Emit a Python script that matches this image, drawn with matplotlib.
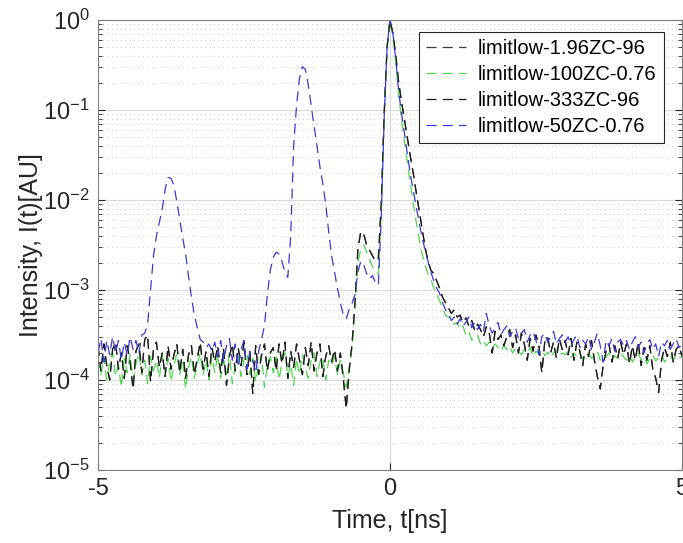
import numpy as np
import matplotlib
matplotlib.use("Agg")
import matplotlib.pyplot as plt

plt.rcParams['font.family'] = ['Liberation Sans', 'DejaVu Sans']
plt.rcParams['mathtext.fontset'] = 'custom'
plt.rcParams['mathtext.rm'] = 'Liberation Sans'
plt.rcParams['mathtext.it'] = 'Liberation Sans:italic'

# time axis, ns (step 0.05)
t = np.round(np.arange(201) * 0.05 - 5, 2)

# log10 of intensity
log_333 = [
    -3.62, -3.90, -3.60, -3.84, -4.00, -3.66, -3.58, -3.88, -3.70, -3.98, -3.62, -3.80, -4.10, -3.68, -3.60, -3.92, -3.55, -3.50, -4.02, -3.66,
    -3.58, -3.86, -3.70, -3.96, -3.62, -3.88, -3.72, -3.60, -3.92, -3.66, -3.98, -3.72, -3.62, -3.94, -3.76, -3.58, -3.88, -3.68, -3.96, -3.64,
    -3.80, -3.62, -3.92, -3.66, -4.06, -3.74, -3.60, -3.90, -3.64, -3.84, -3.58, -3.94, -3.68, -4.15, -3.62, -3.94, -3.72, -3.60, -3.90, -3.70,
    -3.64, -3.90, -3.60, -3.82, -3.58, -3.98, -3.68, -3.86, -3.60, -3.78, -3.94, -3.64, -3.84, -3.58, -3.90, -3.70, -3.60, -3.96, -3.74, -3.62,
    -3.80, -3.66, -3.90, -3.70, -3.98, -4.32, -3.90, -3.60, -3.15, -2.55, -2.35, -2.38, -2.50, -2.56, -2.62, -2.68, -2.66, -2.05, -1.05, -0.30,
    0.00, -0.15, -0.40, -0.70, -0.92, -1.12, -1.32, -1.52, -1.71, -1.92, -2.12, -2.32, -2.52, -2.68, -2.78, -2.82, -2.90, -2.98, -3.08, -3.14,
    -3.20, -3.26, -3.22, -3.30, -3.28, -3.36, -3.31, -3.40, -3.34, -3.45, -3.38, -3.44, -3.52, -3.41, -3.48, -3.70, -3.46, -3.55, -3.50, -3.62,
    -3.52, -3.44, -3.64, -3.50, -3.70, -3.48, -3.60, -3.78, -3.54, -3.68, -3.50, -3.62, -3.92, -3.58, -3.52, -3.70, -3.58, -3.76, -3.54, -3.66,
    -3.56, -3.72, -3.54, -3.78, -3.58, -3.68, -3.84, -3.60, -3.74, -3.56, -3.78, -3.96, -4.10, -3.84, -3.68, -3.60, -3.80, -3.62, -3.76, -3.58,
    -3.72, -3.60, -3.82, -3.62, -3.78, -3.58, -3.84, -3.64, -3.78, -3.62, -3.88, -3.98, -4.14, -3.78, -3.64, -3.74, -3.58, -3.80, -3.66, -3.62, -3.74,
]
log_196 = log_333  # hidden under the 333ZC curve

log_100 = [
    -3.76, -3.94, -3.74, -4.00, -3.80, -3.70, -3.96, -3.84, -4.08, -3.76, -3.92, -3.72, -4.00, -3.82, -3.70, -3.94, -3.78, -4.04, -3.74, -3.90,
    -3.78, -3.98, -3.72, -3.92, -3.76, -4.02, -3.84, -3.70, -3.94, -3.78, -4.10, -3.86, -3.74, -3.98, -3.82, -3.70, -3.94, -3.78, -4.00, -3.74,
    -3.92, -3.72, -3.98, -3.78, -3.94, -3.70, -4.04, -3.84, -3.74, -3.96, -3.78, -3.70, -3.94, -3.76, -4.02, -3.82, -3.72, -4.08, -3.84, -3.74,
    -3.92, -3.74, -4.00, -3.80, -3.70, -3.96, -3.82, -4.06, -3.76, -3.94, -3.72, -3.86, -3.98, -3.78, -3.70, -3.96, -3.80, -3.74, -4.00, -3.78,
    -3.84, -3.74, -3.94, -3.78, -3.92, -4.08, -3.86, -3.65, -3.20, -2.70, -2.55, -2.50, -2.58, -2.66, -2.74, -2.80, -2.82, -2.15, -1.10, -0.32,
    0.00, -0.18, -0.48, -0.85, -1.12, -1.36, -1.60, -1.82, -2.05, -2.25, -2.44, -2.60, -2.72, -2.82, -2.88, -2.98, -3.05, -3.12, -3.20, -3.28,
    -3.30, -3.34, -3.38, -3.36, -3.44, -3.40, -3.50, -3.46, -3.56, -3.52, -3.50, -3.60, -3.56, -3.62, -3.58, -3.65, -3.60, -3.64, -3.68, -3.62,
    -3.66, -3.62, -3.70, -3.65, -3.68, -3.72, -3.66, -3.70, -3.64, -3.74, -3.68, -3.71, -3.66, -3.73, -3.69, -3.75, -3.70, -3.67, -3.74, -3.70,
    -3.72, -3.68, -3.75, -3.70, -3.74, -3.69, -3.77, -3.72, -3.70, -3.76, -3.73, -3.68, -3.78, -3.72, -3.75, -3.70, -3.79, -3.73, -3.76, -3.71,
    -3.74, -3.78, -3.72, -3.80, -3.75, -3.70, -3.78, -3.74, -3.82, -3.76, -3.72, -3.79, -3.75, -3.71, -3.80, -3.76, -3.73, -3.78, -3.72, -3.76, -3.74,
]

log_50 = [
    -3.70, -3.54, -3.80, -3.56, -3.72, -3.52, -3.70, -3.56, -3.78, -3.58, -3.72, -3.52, -3.66, -3.56, -3.70, -3.50, -3.48, -3.38, -3.00, -2.62,
    -2.40, -2.25, -2.10, -1.88, -1.75, -1.76, -1.84, -2.02, -2.22, -2.42, -2.60, -2.85, -3.08, -3.28, -3.42, -3.55, -3.58, -3.64, -3.60, -3.68,
    -3.58, -3.74, -3.56, -3.80, -3.62, -3.54, -3.78, -3.60, -3.86, -3.66, -3.56, -3.88, -3.68, -3.78, -3.92, -3.68, -3.55, -3.40, -3.05, -2.78,
    -2.64, -2.58, -2.60, -2.68, -2.80, -2.86, -2.40, -1.40, -0.95, -0.65, -0.52, -0.55, -0.72, -0.95, -1.18, -1.40, -1.63, -1.82, -2.05, -2.35,
    -2.62, -2.80, -2.98, -3.14, -3.28, -3.32, -3.22, -3.15, -3.05, -2.80, -2.68, -2.72, -2.82, -2.88, -2.84, -2.92, -2.95, -2.20, -1.10, -0.30,
    0.00, -0.15, -0.45, -0.80, -1.05, -1.27, -1.50, -1.72, -1.90, -2.08, -2.25, -2.42, -2.55, -2.68, -2.80, -2.90, -2.98, -3.04, -3.14, -3.22,
    -3.26, -3.34, -3.30, -3.38, -3.32, -3.40, -3.36, -3.30, -3.42, -3.36, -3.44, -3.38, -3.46, -3.26, -3.40, -3.48, -3.42, -3.36, -3.50, -3.44,
    -3.40, -3.52, -3.46, -3.42, -3.54, -3.48, -3.44, -3.58, -3.50, -3.46, -3.56, -3.72, -3.52, -3.48, -3.58, -3.52, -3.46, -3.60, -3.54, -3.50,
    -3.58, -3.52, -3.62, -3.55, -3.50, -3.64, -3.56, -3.60, -3.52, -3.66, -3.58, -3.48, -3.62, -3.80, -3.56, -3.62, -3.54, -3.68, -3.58, -3.55,
    -3.62, -3.56, -3.66, -3.58, -3.52, -3.64, -3.58, -3.70, -3.60, -3.55, -3.66, -3.60, -3.74, -3.58, -3.62, -3.56, -3.66, -3.60, -3.54, -3.64, -3.60,
]

names = ["limitlow-1.96ZC-96", "limitlow-100ZC-0.76", "limitlow-333ZC-96", "limitlow-50ZC-0.76"]
series = [log_196, log_100, log_333, log_50]
colors = ["#3c3c3c", "#4fd64f", "#1c1c1c", "#3a3ad6"]

fig = plt.figure(figsize=(6.83, 5.43), dpi=100)
ax = fig.add_axes([0.1435, 0.1344, 0.855, 0.829])

for name, s, c in zip(names, series, colors):
    ax.plot(t, 10.0 ** np.array(s), linestyle=(0, (8, 5)), color=c, linewidth=0.9, label=name)

ax.set_yscale("log")
ax.set_xlim(-5, 5)
ax.set_ylim(1e-5, 1)
ax.set_xticks([-5, 0, 5])
ax.set_xticklabels(["-5", "0", "5"])
ax.set_yticks([1e-5, 1e-4, 1e-3, 1e-2, 1e-1, 1e0])
ax.set_yticklabels([r"$10^{-5}$", r"$10^{-4}$", r"$10^{-3}$", r"$10^{-2}$", r"$10^{-1}$", r"$10^{0}$"])
ax.tick_params(which="both", direction="in", top=True, right=True, labelsize=17, colors="#262626", pad=6)
ax.tick_params(which="minor", length=3)
ax.tick_params(which="major", length=5)

ax.grid(True, which="major", color="#d9d9d9", linewidth=0.8, linestyle="-")
ax.grid(True, which="minor", axis="y", color="#cfcfcf", linewidth=0.8, linestyle=(0, (1, 3)))
ax.set_axisbelow(True)
for sp in ax.spines.values():
    sp.set_color("#808080")
    sp.set_linewidth(0.8)

ax.set_xlabel("Time, t[ns]", fontsize=18, color="#262626", labelpad=6)
ax.set_ylabel("Intensity, I(t)[AU]", fontsize=18, color="#262626", labelpad=0)

leg = ax.legend(loc="upper right", bbox_to_anchor=(0.986, 0.996), fontsize=14.5, frameon=True,
                fancybox=False, edgecolor="#262626", framealpha=1, handlelength=2.0,
                borderpad=0.35, labelspacing=0.35, handletextpad=0.6)
leg.get_frame().set_linewidth(0.8)

fig.savefig("out.png", dpi=100)
